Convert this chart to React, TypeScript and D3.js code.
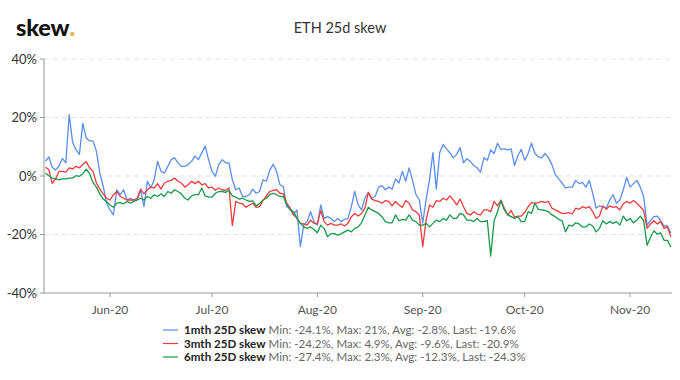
import React from "react";
import * as d3 from "d3";

const seriesNames = ["1mth 25D skew", "3mth 25D skew", "6mth 25D skew"];
const seriesStats = [
  "Min: -24.1%, Max: 21%, Avg: -2.8%, Last: -19.6%",
  "Min: -24.2%, Max: 4.9%, Avg: -9.6%, Last: -20.9%",
  "Min: -27.4%, Max: 2.3%, Avg: -12.3%, Last: -24.3%",
];
const seriesColors = ["#5b8def", "#ee3b3b", "#17994a"];
const startDate = new Date(Date.UTC(2020, 4, 13));
const yTicks = [-40, -20, 0, 20, 40];

const skew1m = [
  5, 6.5, 3, 2, 3.5, 6, 4.5, 21, 11.5, 9, 7.4, 18, 13, 12, 12, 8.5, 1, -3.5, -9.3, -11.6,
  -13.3, -4.7, -6.4, -4.7, -8.2, -7.6, -8.2, -8.2, -4.7, -10.5, -1.8, -4.1, -1.3, 5, 1.6, 1, 3.3, 5.6, 6.2, 4.5,
  3.3, 3.3, 3.9, 5, 6.8, 5.6, 7.9, 10.2, 5.6, 1.6, -0.1, 3.9, 5.6, 4.5, 4.5, -1.3, -4.7, -4.1, -7, -7,
  -6.4, -4.5, -5.9, -5.3, -1.3, -1.8, 2, 4, 1.6, -3, -3.6, -10.5, -11, -13.3, -11.6, -24.1, -16.8, -15.6, -12.2, -15.6,
  -16.8, -9.9, -14.5, -13.9, -14.5, -15.6, -14.5, -15.6, -14.8, -14.5, -10.5, -5.3, -9.9, -11.6, -7.6, -5.6, -7.6, -7, -3.8, -3.3,
  -4.7, -3.8, -4.5, -1, -2.4, 1.6, -1.8, 2.8, -1.5, -6.4, -8.2, -16, -8, -1.3, 8, -4.5, 8, 10.8, 9.3, 7.9,
  6.2, 7.4, 9.7, 4.5, 5.9, 5, 3.6, 2.8, 1.3, 6.2, 5.4, 8.9, 7.7, 11.2, 9.1, 9.3, 8.9, 9.3, 3.6, 7,
  9.1, 5.4, 7.7, 11.2, 7.7, 6.6, 6.2, 7.7, 6.2, 3.9, 0.5, -1, -2.4, -4.1, -3.8, -3.8, -1.5, -2.6, -2.2, -3.8,
  -1.5, -5.9, -11, -10.2, -10.5, -11, -8.2, -6.4, -9.3, -8.2, -4.7, -0.5, -3.8, -2.6, -1.5, -3.8, -7, -16.8, -15.3, -13.9,
  -13.7, -15.3, -17.1, -17.1, -19.6,
];

const skew3m = [
  3, 2.2, -2.5, -1, 1.6, 1.6, 1.3, 2.8, 2.4, 3.3, 2.8, 3.9, 4.9, 2.8, 1.6, -2.4, -4.5, -6.1, -7.6, -8.2,
  -6.4, -5.3, -7, -7.6, -8.2, -8.2, -8.2, -7.6, -4.5, -6.1, -4.7, -3.8, -4.1, -2.6, -4.5, -2.4, -1.8, -1.5, -0.7, -1.8,
  -2.4, -3.8, -3, -1.8, -2.6, -1.8, -3, -2.6, -4.1, -3.8, -4.9, -4.1, -4.7, -4.9, -4.1, -17, -8.7, -9.3, -9.5, -10.7,
  -9.9, -9.3, -10.7, -10.5, -8.4, -6.8, -5.3, -4.9, -4.7, -5.9, -6.1, -9.3, -11, -13.3, -14.5, -16.2, -16.4, -16.8, -15.1, -16.2,
  -16.4, -11.8, -15.6, -16.8, -16.2, -16.8, -16.8, -16.4, -17.1, -16.2, -13.9, -12.8, -13.7, -12.8, -11, -5.6, -7.9, -8.4, -8.7, -9.3,
  -8.4, -8.7, -10.2, -8.7, -9.9, -10.7, -8.4, -9.3, -11.6, -12.2, -13.3, -24.2, -15.1, -9.9, -10.7, -8.4, -8.7, -7.6, -8.2, -6.8,
  -8.2, -9.9, -7.9, -10.5, -12.8, -13.3, -12.2, -13, -13.3, -11.6, -11.6, -12.2, -8.7, -10.2, -8.2, -11, -13.3, -11.8, -14.1, -13.7,
  -13.7, -12.5, -10.5, -9.1, -9.3, -9.1, -8.7, -9.1, -8.7, -11, -11.6, -12.2, -12.8, -12.8, -12.5, -13, -11, -11.4, -10.5, -11,
  -10.5, -12.2, -14.5, -13.7, -10.2, -11.4, -10.2, -10.7, -10.5, -11.6, -9.5, -8.7, -9.3, -8.4, -9.3, -10.5, -11.8, -17.9, -16.4, -15.3,
  -16.4, -15.6, -17.9, -17.4, -20.9,
];

const skew6m = [
  1, 0.1, -0.7, -1, -1.3, -1, -1, -0.7, -0.7, 0.1, -0.1, 0.8, 2.3, 0.8, -2.2, -3.8, -6.1, -7.9, -8.7, -9.9,
  -10.7, -9.3, -9.1, -9.5, -8.7, -9.3, -8.7, -8.2, -7.6, -8.2, -7, -7.6, -6.4, -7, -6.1, -7, -5.3, -5.9, -4.7, -5.3,
  -6.1, -7.6, -8.2, -6.8, -6.4, -6.4, -4.1, -6.8, -7.2, -7.2, -5.9, -5.3, -5.3, -5.6, -4.9, -6.8, -7.2, -7.9, -7.6, -8.2,
  -8.7, -8.5, -10.2, -9.5, -8.2, -7.6, -6.4, -5.9, -6.4, -7, -7, -9.9, -11.6, -12.2, -14.5, -16.2, -17.4, -17.9, -17.4, -18.3,
  -19.4, -16.8, -17.9, -20.8, -19.7, -19.7, -20.2, -19.7, -19.1, -18.5, -19.1, -17.9, -17.4, -16, -13.3, -10.7, -11.6, -12.2, -12.8, -13.9,
  -15.6, -16, -16, -13.3, -15.3, -14.8, -15.1, -13.3, -15.1, -15.6, -16.8, -16.8, -16.2, -17.4, -16.2, -15.1, -15.6, -14.5, -15.1, -13.3,
  -14.5, -14.5, -12.8, -13.3, -15.1, -15.1, -15.6, -14.5, -15.6, -15.6, -15.3, -27.4, -15.3, -12.2, -8.5, -11.6, -13.3, -13.9, -14.5, -13.9,
  -15.6, -15.6, -12.2, -12.8, -9.3, -11.4, -11.6, -11.8, -12.2, -13.3, -13.9, -14.8, -15.3, -19.1, -16.8, -17.1, -16, -16.4, -17.4, -17.4,
  -16.4, -17.1, -19.1, -17.9, -15.3, -16.4, -15.6, -16.2, -15.6, -16.8, -13.7, -15.3, -14.5, -16, -15.1, -13.7, -15.3, -23.7, -21, -18.7,
  -19.9, -19.4, -22, -22, -24.3,
];

const allSeries = [skew1m, skew3m, skew6m];

const W = 680;
const H = 380;
const left = 44;
const right = 672;
const top = 59;
const bottom = 293;
const FONT = "Lato, 'Noto Sans', sans-serif";

export default function App() {
  const x = d3
    .scaleUtc()
    .domain([d3.utcHour.offset(startDate, -10), d3.utcHour.offset(startDate, 184 * 24 + 8)])
    .range([left, right]);
  const y = d3.scaleLinear().domain([-40, 40]).range([bottom, top]);
  const xTicks = x.ticks(d3.utcMonth.every(1)!);
  const fmt = d3.utcFormat("%b-%y");

  const line = d3
    .line<number>()
    .x((_, i) => x(d3.utcDay.offset(startDate, i)))
    .y((v) => y(v));

  return (
    <svg width={W} height={H} style={{ display: "block", position: "absolute", left: 0, top: 0, background: "#fff" }} fontFamily={FONT}>
      <text x={16} y={36} fontSize={23.5} fontWeight={900} fill="#111" letterSpacing={-0.2}>
        skew<tspan fill="#f0b44c" fontSize={26}>.</tspan>
      </text>
      <text x={340} y={33} fontSize={14.5} textAnchor="middle" fill="#333">
        ETH 25d skew
      </text>

      {yTicks.map((t) => (
        <g key={t}>
          {t !== -40 && (
            <line x1={left} x2={right} y1={y(t)} y2={y(t)} stroke="#e3e3e3" strokeWidth={1} strokeDasharray="5,4" />
          )}
          <line x1={left - 4} x2={left} y1={y(t)} y2={y(t)} stroke="#999" />
          <text x={left - 7} y={y(t)} dy="0.35em" fontSize={13} textAnchor="end" fill="#333">
            {t}%
          </text>
        </g>
      ))}
      <line x1={left} x2={left} y1={top} y2={bottom} stroke="#999" />
      <line x1={left} x2={right} y1={bottom} y2={bottom} stroke="#999" />
      {xTicks.map((t) => (
        <g key={t.toISOString()}>
          <line x1={x(t)} x2={x(t)} y1={bottom} y2={bottom + 4} stroke="#999" />
          <text x={x(t)} y={314} fontSize={12} textAnchor="middle" fill="#555">
            {fmt(t)}
          </text>
        </g>
      ))}

      {allSeries.map((s, k) => (
        <path key={k} d={line(s) || ""} fill="none" stroke={seriesColors[k]} strokeWidth={1.3} strokeLinejoin="round" />
      ))}

      {seriesNames.map((n, k) => {
        const yy = 330 + k * 13.5;
        return (
          <g key={n}>
            <line x1={163} x2={178} y1={yy} y2={yy} stroke={seriesColors[k]} strokeWidth={1.2} />
            <text x={184} y={yy} dy="0.35em" fontSize={11.6} fill="#222">
              <tspan fontWeight={700}>{n}</tspan>
              <tspan fill="#666"> {seriesStats[k]}</tspan>
            </text>
          </g>
        );
      })}
    </svg>
  );
}
